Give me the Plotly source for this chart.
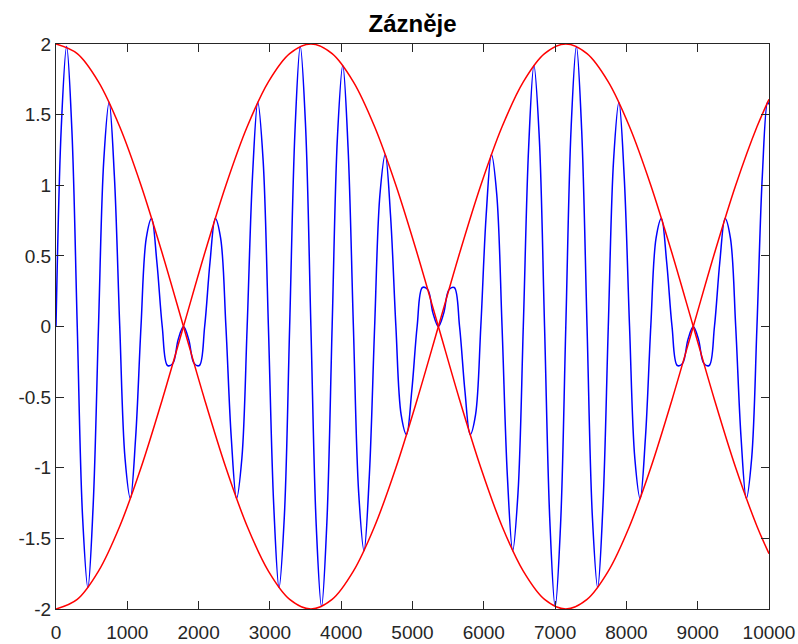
import plotly.graph_objects as go

t_blue = [0, 74, 149, 223, 298, 372, 447, 521, 596, 670, 745, 819, 894, 968, 1043, 1117,
          1192, 1266, 1341, 1415, 1490, 1564, 1639, 1713, 1788, 1862, 1937, 2011, 2085, 2160,
          2234, 2309, 2383, 2458, 2532, 2607, 2681, 2756, 2830, 2905, 2979, 3054, 3128, 3203,
          3277, 3352, 3426, 3501, 3575, 3650, 3724, 3799, 3873, 3947, 4022, 4096, 4171, 4245,
          4320, 4394, 4469, 4543, 4618, 4692, 4767, 4841, 4916, 4990, 5065, 5139, 5214, 5288,
          5363, 5437, 5512, 5586, 5660, 5735, 5809, 5884, 5958, 6033, 6107, 6182, 6256, 6331,
          6405, 6480, 6554, 6629, 6703, 6778, 6852, 6927, 7001, 7076, 7150, 7225, 7299, 7373,
          7448, 7522, 7597, 7671, 7746, 7820, 7895, 7969, 8044, 8118, 8193, 8267, 8342, 8416,
          8491, 8565, 8640, 8714, 8788, 8863, 8938, 9012, 9086, 9161, 9235, 9310, 9384, 9459,
          9533, 9608, 9682, 9757, 9831, 9906, 9980, 10000]
y_blue = [0, 1.411, 1.983, 1.387, 0, -1.339, -1.848, -1.269, 0, 1.176, 1.587, 1.063, 0,
          -0.933, -1.218, -0.786, 0, 0.626, 0.765, 0.455, 0, -0.276, -0.261, -0.093, 0,
          -0.093, -0.261, -0.276, 0, 0.455, 0.765, 0.626, 0, -0.786, -1.218, -0.933, 0,
          1.063, 1.587, 1.176, 0, -1.269, -1.848, -1.339, 0, 1.387, 1.983, 1.411, 0,
          -1.411, -1.983, -1.387, 0, 1.339, 1.848, 1.269, 0, -1.176, -1.587, -1.063, 0,
          0.933, 1.218, 0.786, 0, -0.626, -0.765, -0.455, 0, 0.276, 0.261, 0.093, 0,
          0.093, 0.261, 0.276, 0, -0.455, -0.765, -0.626, 0, 0.786, 1.218, 0.933, 0,
          -1.063, -1.587, -1.176, 0, 1.269, 1.848, 1.339, 0, -1.387, -1.983, -1.411, 0,
          1.411, 1.983, 1.387, 0, -1.339, -1.848, -1.269, 0, 1.176, 1.587, 1.063, 0,
          -0.933, -1.218, -0.786, 0, 0.626, 0.765, 0.455, 0, -0.276, -0.261, -0.093, 0,
          -0.093, -0.261, -0.276, 0, 0.455, 0.765, 0.626, 0, -0.786, -1.218, -0.933, 0,
          1.063, 1.587, 1.573]

# Red envelope (upper)
t_env = [0, 298, 596, 894, 1192, 1490, 1788, 2085, 2383, 2681, 2979, 3277, 3575, 3873,
         4171, 4469, 4767, 5065, 5363, 5660, 5958, 6256, 6554, 6852, 7150, 7448, 7746,
         8044, 8342, 8640, 8938, 9235, 9533, 9831, 10000]
y_env_upper = [2.0, 1.932, 1.732, 1.414, 1.0, 0.518, 0, -0.518, -1.0, -1.414, -1.732,
               -1.932, -2.0, -1.932, -1.732, -1.414, -1.0, -0.518, 0, 0.518, 1.0, 1.414,
               1.732, 1.932, 2.0, 1.932, 1.732, 1.414, 1.0, 0.518, 0, -0.518, -1.0,
               -1.414, -1.608]
y_env_lower = [-2.0, -1.932, -1.732, -1.414, -1.0, -0.518, 0, 0.518, 1.0, 1.414, 1.732,
               1.932, 2.0, 1.932, 1.732, 1.414, 1.0, 0.518, 0, -0.518, -1.0, -1.414,
               -1.732, -1.932, -2.0, -1.932, -1.732, -1.414, -1.0, -0.518, 0, 0.518, 1.0,
               1.414, 1.608]

x_ticks = [0, 1000, 2000, 3000, 4000, 5000, 6000, 7000, 8000, 9000, 10000]
x_ticktext = ["0", "1000", "2000", "3000", "4000", "5000", "6000", "7000", "8000", "9000", "10000"]
y_ticks = [-2, -1.5, -1, -0.5, 0, 0.5, 1, 1.5, 2]
y_ticktext = ["-2", "-1.5", "-1", "-0.5", "0", "0.5", "1", "1.5", "2"]

title_text = "Zázněje"

fig = go.Figure()
fig.add_trace(go.Scatter(x=t_blue, y=y_blue, mode="lines",
                         line=dict(color="#0000ff", width=1.5, shape="spline", smoothing=1)))
fig.add_trace(go.Scatter(x=t_env, y=y_env_upper, mode="lines",
                         line=dict(color="#ff0000", width=1.5, shape="spline", smoothing=1)))
fig.add_trace(go.Scatter(x=t_env, y=y_env_lower, mode="lines",
                         line=dict(color="#ff0000", width=1.5, shape="spline", smoothing=1)))

axis_common = dict(showgrid=False, zeroline=False, showline=True, linecolor="#262626",
                   linewidth=1, mirror="ticks", ticks="inside", ticklen=8,
                   tickcolor="#262626", tickwidth=1, automargin=False,
                   tickfont=dict(family="Liberation Sans, Arial, sans-serif", size=19, color="#262626"))

fig.update_layout(
    width=798, height=644,
    margin=dict(l=56, r=29, t=44, b=35),
    paper_bgcolor="white", plot_bgcolor="white",
    showlegend=False,
    title=dict(text="<b>" + title_text + "</b>", x=0.517, xanchor="center",
               y=1 - 24 / 644, yanchor="middle", yref="container",
               font=dict(family="Liberation Sans, Arial, sans-serif", size=24, color="#000000")),
    xaxis=dict(range=[0, 10000], tickvals=x_ticks, ticktext=x_ticktext,
               ticklabelstandoff=6, **axis_common),
    yaxis=dict(range=[-2, 2], tickvals=y_ticks, ticktext=y_ticktext, **axis_common),
)

fig.write_html("out.html")
